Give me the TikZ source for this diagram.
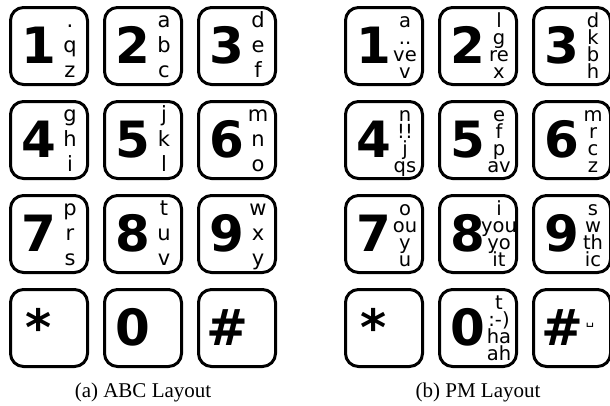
\documentclass[tikz,border=0pt]{standalone}
\usepackage{fontspec}
\setmainfont{Liberation Serif}
\newfontfamily\keyfont{DejaVu Sans}
\tikzset{
    key/.style={
        rectangle, rounded corners=13pt,
        minimum width=77pt, minimum height=77pt,
        draw=black, line width=3pt, inner sep=0pt
    },
    digit/.style={
        anchor=base, inner sep=0pt,
        font=\keyfont\bfseries\fontsize{50}{50}\selectfont
    },
    glyph/.style={
        anchor=base, inner sep=0pt,
        font=\keyfont\fontsize{21}{21}\selectfont
    },
    smallglyph/.style={
        anchor=base, inner sep=0pt,
        font=\keyfont\fontsize{19.5}{19.5}\selectfont
    },
    caption/.style={anchor=base, font=\fontsize{21}{21}\selectfont}
}
\begin{document}
\begin{tikzpicture}[x=1pt, y=-1pt]
    \useasboundingbox (0,0) rectangle (610,405);

    % ABC layout, three letters per key
    \foreach \cx/\cy/\dig/\chars [count=\k] in {
        49/46/1/{.,q,z}, 143/46/2/{a,b,c}, 237/46/3/{d,e,f},
        49/140/4/{g,h,i}, 143/140/5/{j,k,l}, 237/140/6/{m,n,o},
        49/234/7/{p,r,s}, 143/234/8/{t,u,v}, 237/234/9/{w,x,y},
        49/328/*/{}, 143/328/0/{}, 237/328/\#/{}} {
        \node[key] (abc\k) at (\cx,\cy) {};
        \node[digit] (abcdig\k) at (\cx-10,\cy+17) {\dig};
        \foreach \c [count=\i] in \chars
            \node[glyph] (abcchr\k-\i) at (\cx+21,\cy-44+\i*25) {\c};
    }

    % PM layout, four lines per key
    \foreach \cx/\cy/\dig/\chars [count=\k] in {
        384/46/1/{a,{..},ve,v}, 478/46/2/{l,g,re,x}, 572/46/3/{d,k,b,h},
        384/140/4/{n,!!,j,qs}, 478/140/5/{e,f,p,av}, 572/140/6/{m,r,c,z},
        384/234/7/{o,ou,y,u}, 478/234/8/{i,you,yo,it}, 572/234/9/{s,w,th,ic},
        384/328/*/{}, 478/328/0/{t,{:-)},ha,ah}, 572/328/\#/{}} {
        \node[key] (pm\k) at (\cx,\cy) {};
        \node[digit] (pmdig\k) at (\cx-10,\cy+17) {\dig};
        \foreach \c [count=\i] in \chars
            \node[smallglyph] (pmchr\k-\i) at (\cx+21,\cy-36+\i*17) {\c};
    }
    \node[glyph, font=\keyfont\fontsize{13}{13}\selectfont] (pmspace) at (590,324) {␣};

    \node[caption] (capa) at (143,397) {(a) ABC Layout};
    \node[caption] (capb) at (478,397) {(b) PM Layout};
\end{tikzpicture}
\end{document}
